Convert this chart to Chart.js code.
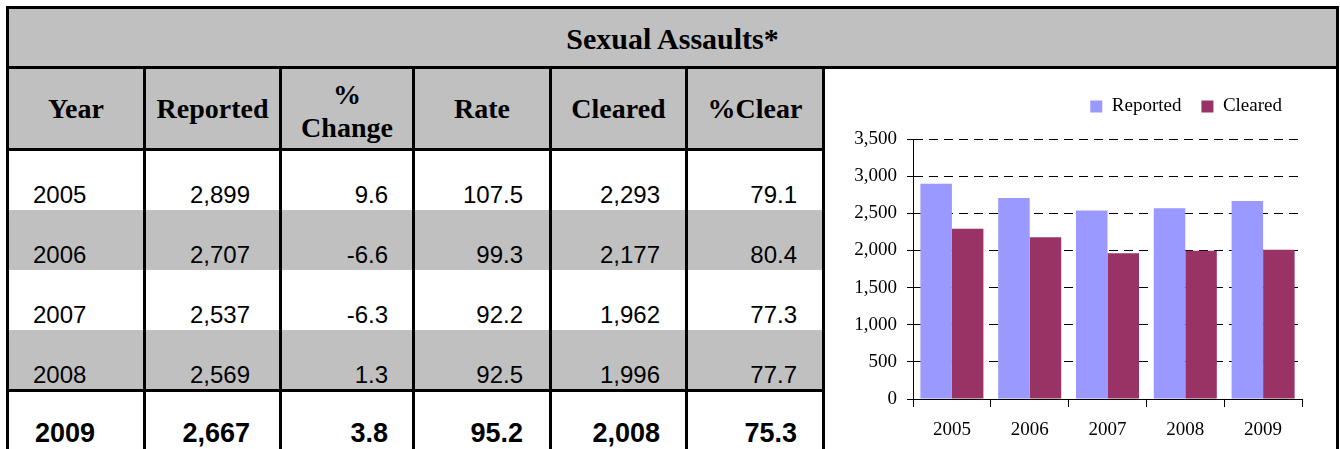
<!DOCTYPE html>
<html>
<head>
<meta charset="utf-8">
<script src="https://cdn.jsdelivr.net/npm/chart.js@4"></script>
<style>
  body { margin: 0; background: #fff; }
  #page { position: relative; width: 1340px; height: 449px; overflow: hidden; background: #fff; }
  .blk { position: absolute; }
  .txt { position: absolute; white-space: nowrap; color: #000; }
  .hd { font-family: "Liberation Serif", serif; font-weight: bold; font-size: 28px; line-height: 28px; text-align: center; }
  .num { font-family: "Liberation Sans", Arial, sans-serif; font-size: 24px; line-height: 24px; }
  .bold { font-weight: bold; font-size: 27px; line-height: 27px; }
  #chartBox { position: absolute; left: 825px; top: 69px; width: 511px; height: 380px; }
</style>
</head>
<body>
<div id="page">
  <div id="chartBox"><canvas id="chart" width="511" height="380"></canvas></div>
</div>
<script>
// 数据
let years = ["2005", "2006", "2007", "2008", "2009"];
let reported = [2899, 2707, 2537, 2569, 2667];
let pctChange = [9.6, -6.6, -6.3, 1.3, 3.8];
let rate = [107.5, 99.3, 92.2, 92.5, 95.2];
let cleared = [2293, 2177, 1962, 1996, 2008];
let pctClear = [79.1, 80.4, 77.3, 77.7, 75.3];
let headers = ["Year", "Reported", "%<br>Change", "Rate", "Cleared", "%Clear"];
let title = "Sexual Assaults*";
let yMax = 3500;
let yStep = 500;

let page = document.getElementById("page");

function block(x, y, w, h, color) {
  let d = document.createElement("div");
  d.className = "blk";
  d.style.cssText = `left:${x}px;top:${y}px;width:${w}px;height:${h}px;background:${color};`;
  page.appendChild(d);
}

function text(html, cls, css) {
  let d = document.createElement("div");
  d.className = "txt " + cls;
  d.innerHTML = html;
  d.style.cssText += css;
  page.appendChild(d);
}

// 灰色背景
let grey = "#c0c0c0";
block(6, 6, 1333, 63, grey);
block(6, 69, 819, 82, grey);
let rowTops = [151, 210, 270, 330, 390];
rowTops.forEach((t, i) => {
  if (i % 2 == 1) block(6, t, 819, 60, grey);
});

// 边框线
let colLines = [143, 279, 412, 549, 685, 822];
block(6, 6, 1333, 3, "#000");
block(6, 6, 3, 443, "#000");
block(1336, 6, 3, 443, "#000");
block(6, 66, 1333, 3, "#000");
block(6, 148, 819, 3, "#000");
block(6, 389, 819, 3, "#000");
colLines.forEach((x) => block(x, 66, 3, 383, "#000"));

// 标题和表头
text(title, "hd", "left:6px;width:1333px;top:24px;font-size:30px;line-height:30px;");
let cellLeft = [9, 146, 282, 415, 552, 688];
let cellRight = [143, 279, 412, 549, 685, 822];
headers.forEach((h, i) => {
  let w = cellRight[i] - cellLeft[i];
  if (h.indexOf("<br>") >= 0) {
    text(h, "hd", `left:${cellLeft[i]}px;width:${w}px;top:78px;line-height:33px;`);
  } else {
    text(h, "hd", `left:${cellLeft[i]}px;width:${w}px;top:95px;`);
  }
});

// 表格数据
let baselines = [203, 263, 323, 383, 443];
let numRight = [250, 388, 523, 660, 797];
years.forEach((y, i) => {
  let last = i == years.length - 1;
  let cls = "num" + (last ? " bold" : "");
  let top = last ? baselines[i] - 23 : baselines[i] - 20;
  let vals = [
    reported[i].toLocaleString("en-US"),
    pctChange[i].toFixed(1),
    rate[i].toFixed(1),
    cleared[i].toLocaleString("en-US"),
    pctClear[i].toFixed(1),
  ];
  text(y, cls, `left:${last ? 35 : 33}px;top:${top}px;`);
  vals.forEach((v, j) => {
    text(v, cls, `right:${1340 - numRight[j]}px;top:${top}px;text-align:right;`);
  });
});

// 图表
let serif = { family: "'Liberation Serif', 'Times New Roman', serif", size: 19 };

// 固定图例高度，让绘图区从同一位置开始
let legendHeight = {
  id: "legendHeight",
  beforeLayout(chart) {
    let lg = chart.legend;
    if (lg && !lg._fixed) {
      let fit = lg.fit;
      lg.fit = function () {
        fit.call(this);
        this.height = 62;
      };
      lg._fixed = true;
    }
  },
};

let chart = new Chart(document.getElementById("chart"), {
  type: "bar",
  data: {
    labels: years,
    datasets: [
      {
        label: "Reported",
        data: reported,
        backgroundColor: "#9999ff",
        borderWidth: 0,
        categoryPercentage: 0.81,
        barPercentage: 1,
      },
      {
        label: "Cleared",
        data: cleared,
        backgroundColor: "#993366",
        borderWidth: 0,
        categoryPercentage: 0.81,
        barPercentage: 1,
      },
    ],
  },
  options: {
    responsive: false,
    animation: false,
    layout: { padding: { right: 34, top: 8 } },
    scales: {
      x: {
        grid: { drawOnChartArea: false, color: "#000", tickLength: 8, offset: true },
        border: { color: "#000" },
        ticks: { color: "#000", font: serif, padding: 12 },
        afterFit(s) {
          s.height = 50;
        },
      },
      y: {
        min: 0,
        max: yMax,
        ticks: {
          stepSize: yStep,
          color: "#000",
          font: serif,
          padding: 10,
          callback: (v) => v.toLocaleString("en-US"),
        },
        grid: { color: "#000", tickLength: 6 },
        border: { color: "#000", dash: [9, 6] },
        afterFit(s) {
          s.width = 88;
        },
      },
    },
    plugins: {
      legend: {
        display: true,
        position: "top",
        align: "end",
        labels: { boxWidth: 12, boxHeight: 12, padding: 20, color: "#000", font: serif },
      },
      tooltip: { enabled: false },
    },
  },
  plugins: [legendHeight],
});
</script>
</body>
</html>
